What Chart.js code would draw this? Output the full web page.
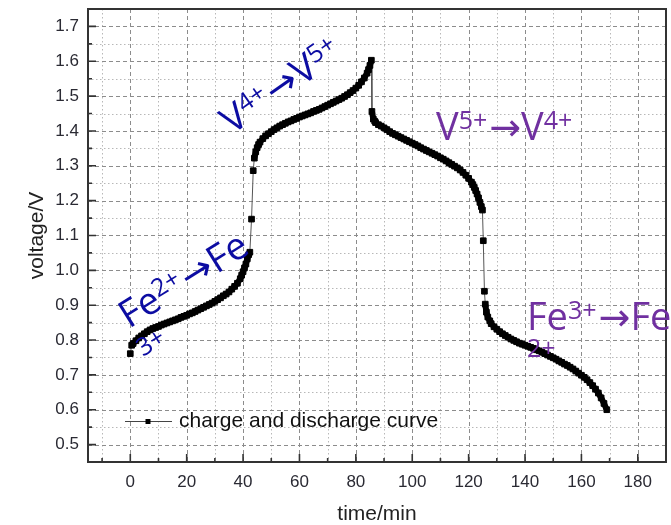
<!DOCTYPE html>
<html>
<head>
<meta charset="utf-8">
<script src="https://cdn.jsdelivr.net/npm/chart.js@4.4.1/dist/chart.umd.min.js"></script>
<style>
  body { margin: 0; background: #fff; }
  #wrap { width: 671px; height: 525px; }
</style>
</head>
<body>
<div id="wrap"><canvas id="chart"></canvas></div>
<script>
// charge branch (time in min, voltage in V)
const chargeTime = [0, 0.5, 1, 2, 3, 4, 5, 6, 7, 8, 9, 10, 11, 12, 13, 14, 15, 16, 17, 18, 19,
    20, 21, 22, 23, 24, 25, 26, 27, 28, 29, 30, 31, 32, 33, 34, 35, 36, 37, 38, 39, 39.5,
    40, 40.5, 41, 41.5, 42, 42.4, 43.0, 43.6, 44.0, 44.5, 45, 45.5, 46, 47, 48, 49,
    50, 51, 52, 53, 54, 55, 56, 57, 58, 59, 60, 61, 62, 63, 64, 65, 66, 67, 68, 69,
    70, 71, 72, 73, 74, 75, 76, 77, 78, 79, 80, 81, 82, 83, 84, 84.5, 85, 85.5]
const chargeVolt = [0.761, 0.785, 0.790, 0.798, 0.806, 0.812, 0.818, 0.824, 0.829, 0.833, 0.836, 0.839, 0.843, 0.846, 0.849, 0.852, 0.855, 0.858, 0.861, 0.865, 0.868,
    0.871, 0.875, 0.878, 0.882, 0.886, 0.890, 0.894, 0.898, 0.902, 0.906, 0.911, 0.916, 0.921, 0.927, 0.932, 0.938, 0.946, 0.954, 0.963, 0.976, 0.986,
    0.996, 1.007, 1.018, 1.033, 1.045, 1.052, 1.147, 1.286, 1.322, 1.340, 1.352, 1.361, 1.368, 1.378, 1.386, 1.392,
    1.398, 1.404, 1.409, 1.414, 1.418, 1.422, 1.426, 1.429, 1.433, 1.436, 1.440, 1.443, 1.446, 1.449, 1.452, 1.456, 1.459, 1.462, 1.466, 1.470,
    1.474, 1.478, 1.482, 1.486, 1.490, 1.494, 1.499, 1.504, 1.510, 1.516, 1.523, 1.531, 1.541, 1.552, 1.566, 1.576, 1.588, 1.603]

// discharge branch
const dischargeTime = [85.7, 86.2, 86.7, 87, 88, 89, 90, 91, 92, 93, 94, 95, 96, 97, 98, 99,
    100, 101, 102, 103, 104, 105, 106, 107, 108, 109, 110, 111, 112, 113, 114, 115, 116, 117, 118, 119,
    120, 121, 121.5, 122, 122.5, 123, 123.5, 124, 124.5, 124.9, 125.2, 125.6, 125.9, 126.3, 126.8, 127.5, 128, 129,
    130, 131, 132, 133, 134, 135, 136, 137, 138, 139, 140, 141, 142, 143, 144, 145, 146, 147, 148, 149,
    150, 151, 152, 153, 154, 155, 156, 157, 158, 159, 160, 161, 162, 163, 164, 165, 166, 167, 168, 169]
const dischargeVolt = [1.456, 1.434, 1.428, 1.424, 1.418, 1.414, 1.409, 1.404, 1.398, 1.393, 1.389, 1.385, 1.381, 1.377, 1.373, 1.369,
    1.365, 1.361, 1.357, 1.352, 1.348, 1.344, 1.340, 1.336, 1.332, 1.328, 1.323, 1.319, 1.314, 1.309, 1.304, 1.299, 1.294, 1.288, 1.281, 1.273,
    1.264, 1.253, 1.246, 1.238, 1.229, 1.219, 1.208, 1.195, 1.183, 1.173, 1.085, 0.940, 0.903, 0.880, 0.866, 0.855, 0.847, 0.838,
    0.831, 0.824, 0.818, 0.813, 0.808, 0.803, 0.799, 0.795, 0.791, 0.788, 0.785, 0.782, 0.779, 0.776, 0.772, 0.769, 0.765, 0.761, 0.757, 0.753,
    0.749, 0.745, 0.740, 0.736, 0.731, 0.727, 0.722, 0.717, 0.711, 0.705, 0.699, 0.693, 0.686, 0.678, 0.669, 0.659, 0.648, 0.634, 0.618, 0.600]

const seriesName = 'charge and discharge curve'
const xTicks = [0, 20, 40, 60, 80, 100, 120, 140, 160, 180]
const yTicks = [0.5, 0.6, 0.7, 0.8, 0.9, 1.0, 1.1, 1.2, 1.3, 1.4, 1.5, 1.6, 1.7]

const points = chargeTime.map((t, i) => ({x: t, y: chargeVolt[i]}))
    .concat(dischargeTime.map((t, i) => ({x: t, y: dischargeVolt[i]})))

const BLUE = '#0c0ca2'
const PURPLE = '#7030a0'
const LBL_FONT = '"Open Sans", "Noto Sans", "DejaVu Sans", sans-serif'
const ARROW_FONT = '"Noto Sans", "DejaVu Sans", sans-serif'

// draws text with superscripts, optionally rotated
const rich = (ctx, x, y, angle, color, parts) => {
    ctx.save()
    ctx.translate(x, y)
    ctx.rotate(-angle * Math.PI / 180)
    ctx.fillStyle = color
    ctx.textBaseline = 'alphabetic'
    ctx.textAlign = 'left'
    let cx = 0
    parts.forEach(p => {
        if (p.t === '→') ctx.font = '38px ' + ARROW_FONT
        else ctx.font = (p.sup ? 25 : 38) + 'px ' + LBL_FONT
        const lx = p.x !== undefined ? p.x : cx
        const ly = p.y !== undefined ? p.y : (p.sup ? -11 : 0)
        ctx.fillText(p.t, lx, ly)
        cx = lx + ctx.measureText(p.t).width + (p.sup ? 2 : 0)
    })
    ctx.restore()
}

const decor = {
    id: 'decor',
    beforeDatasetsDraw(chart) {
        const {ctx, chartArea: a, scales: {x, y}} = chart
        ctx.save()
        ctx.beginPath()
        ctx.rect(a.left, a.top, a.right - a.left, a.bottom - a.top)
        ctx.clip()
        // minor grid (dotted)
        ctx.strokeStyle = '#b8b8b8'
        ctx.lineWidth = 1
        ctx.setLineDash([1.5, 2.5])
        for (let v = -10; v <= 190; v += 20) {
            const px = Math.round(x.getPixelForValue(v)) + 0.5
            ctx.beginPath(); ctx.moveTo(px, a.top); ctx.lineTo(px, a.bottom); ctx.stroke()
        }
        for (let k = 9; k <= 35; k += 2) {
            const py = Math.round(y.getPixelForValue(k / 20)) + 0.5
            ctx.beginPath(); ctx.moveTo(a.left, py); ctx.lineTo(a.right, py); ctx.stroke()
        }
        // major grid (dashed)
        ctx.strokeStyle = '#8c8c8c'
        ctx.setLineDash([4, 3])
        xTicks.forEach(v => {
            const px = Math.round(x.getPixelForValue(v)) + 0.5
            ctx.beginPath(); ctx.moveTo(px, a.top); ctx.lineTo(px, a.bottom); ctx.stroke()
        })
        yTicks.forEach(v => {
            const py = Math.round(y.getPixelForValue(v)) + 0.5
            ctx.beginPath(); ctx.moveTo(a.left, py); ctx.lineTo(a.right, py); ctx.stroke()
        })
        ctx.restore()
    },
    afterDatasetsDraw(chart) {
        const {ctx, chartArea: a, scales: {x, y}} = chart
        ctx.save()
        // frame
        ctx.strokeStyle = '#333'
        ctx.lineWidth = 2
        ctx.strokeRect(a.left, a.top, a.right - a.left, a.bottom - a.top)
        // inward ticks
        ctx.lineWidth = 1.6
        ctx.beginPath()
        xTicks.forEach(v => {
            const px = x.getPixelForValue(v)
            ctx.moveTo(px, a.bottom); ctx.lineTo(px, a.bottom - 8)
        })
        for (let v = -10; v <= 180; v += 20) {
            const px = x.getPixelForValue(v)
            ctx.moveTo(px, a.bottom); ctx.lineTo(px, a.bottom - 4)
        }
        yTicks.forEach(v => {
            const py = y.getPixelForValue(v)
            ctx.moveTo(a.left, py); ctx.lineTo(a.left + 8, py)
        })
        for (let k = 11; k <= 33; k += 2) {
            const py = y.getPixelForValue(k / 20)
            ctx.moveTo(a.left, py); ctx.lineTo(a.left + 4, py)
        }
        ctx.stroke()

        // legend inside plot
        ctx.strokeStyle = '#444'
        ctx.lineWidth = 1
        ctx.beginPath(); ctx.moveTo(125, 421.5); ctx.lineTo(172, 421.5); ctx.stroke()
        ctx.fillStyle = '#000'
        ctx.fillRect(145.5, 419, 5, 5)
        ctx.font = '21px "Liberation Sans", Arial, sans-serif'
        ctx.fillStyle = '#111'
        ctx.textBaseline = 'middle'
        ctx.fillText(seriesName, 179, 421)

        // axis titles
        ctx.font = '21px "Liberation Sans", Arial, sans-serif'
        ctx.fillStyle = '#222'
        ctx.textAlign = 'center'
        ctx.textBaseline = 'alphabetic'
        ctx.fillText('time/min', (a.left + a.right) / 2, 520)
        ctx.save()
        ctx.translate(43, (a.top + a.bottom) / 2)
        ctx.rotate(-Math.PI / 2)
        ctx.fillText('voltage/V', 0, 0)
        ctx.restore()
        ctx.restore()

        // reaction labels
        rich(ctx, 129, 329, 32, BLUE, [{t: 'Fe'}, {t: '2+', sup: true}, {t: '→'}, {t: 'Fe'}, {t: '3+', sup: true, x: -3, y: 31}])
        rich(ctx, 232, 135, 35, BLUE, [{t: 'V'}, {t: '4+', sup: true}, {t: '→'}, {t: 'V'}, {t: '5+', sup: true}])
        rich(ctx, 436, 140, 0, PURPLE, [{t: 'V'}, {t: '5+', sup: true}, {t: '→'}, {t: 'V'}, {t: '4+', sup: true}])
        rich(ctx, 527, 330, 0, PURPLE, [{t: 'Fe'}, {t: '3+', sup: true}, {t: '→'}, {t: 'Fe'}, {t: '2+', sup: true, x: 0, y: 357 - 330}])
    }
}

const fixTicks = list => s => { s.ticks = list.map(v => ({value: v})) }
// dense stretches look like a heavy black band, the jumps keep a thin grey line
const isJump = c => Math.abs(c.p1.parsed.y - c.p0.parsed.y) > 0.0235

const ctx = document.getElementById('chart').getContext('2d')
const chart = new Chart(ctx, {
    type: 'scatter',
    data: {
        datasets: [{
            label: seriesName,
            data: points,
            showLine: true,
            borderColor: '#444',
            borderWidth: 1,
            borderJoinStyle: 'round',
            segment: {
                borderWidth: c => isJump(c) ? 1 : 6,
                borderColor: c => isJump(c) ? '#555' : '#000'
            },
            backgroundColor: '#000',
            pointStyle: 'rect',
            pointRadius: 4,
            pointBorderWidth: 1,
            pointBorderColor: '#000',
            pointBackgroundColor: '#000'
        }]
    },
    options: {
        responsive: true,
        maintainAspectRatio: false,
        animation: false,
        layout: {padding: {top: 9, right: 3, left: 0, bottom: 0}},
        plugins: {legend: {display: false}, tooltip: {enabled: false}},
        scales: {
            x: {
                type: 'linear',
                min: -15,
                max: 190,
                afterBuildTicks: fixTicks(xTicks),
                afterFit: s => { s.height = 63; s.paddingLeft = 0; s.paddingRight = 0 },
                grid: {display: false, drawTicks: false},
                border: {display: false},
                ticks: {
                    padding: 10,
                    color: '#2a2a33',
                    font: {family: '"Liberation Sans", Arial, sans-serif', size: 17}
                }
            },
            y: {
                type: 'linear',
                min: 0.45,
                max: 1.75,
                afterBuildTicks: fixTicks(yTicks),
                afterFit: s => { s.width = 88; s.paddingTop = 0; s.paddingBottom = 0 },
                grid: {display: false, drawTicks: false},
                border: {display: false},
                ticks: {
                    padding: 9,
                    color: '#2a2a33',
                    font: {family: '"Liberation Sans", Arial, sans-serif', size: 17},
                    callback: v => v.toFixed(1)
                }
            }
        }
    },
    plugins: [decor]
})
</script>
</body>
</html>
